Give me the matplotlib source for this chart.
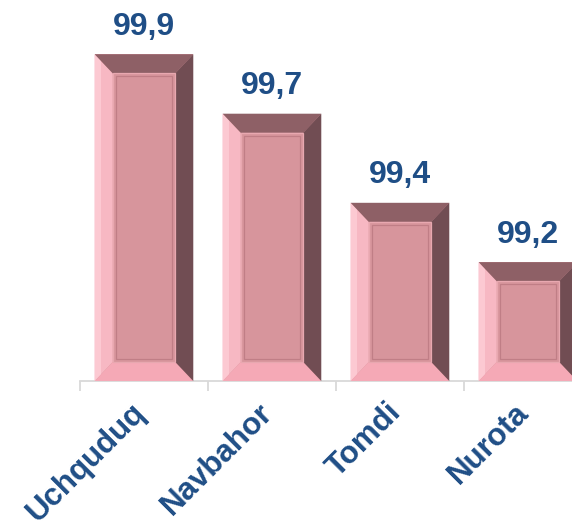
import numpy as np
import matplotlib
matplotlib.use("Agg")
import matplotlib.pyplot as plt
import matplotlib.transforms as mtransforms
from matplotlib.patches import Polygon, Rectangle
from matplotlib.ticker import FixedLocator

# data
districts = ["Uchquduq", "Navbahor", "Tomdi", "Nurota"]
values = [99.9, 99.7, 99.4, 99.2]
value_labels = ["99,9", "99,7", "99,4", "99,2"]

BLUE = "#1f4e86"
plt.rcParams['font.family'] = ['Liberation Sans', 'DejaVu Sans']

W, H = 572, 532
fig = plt.figure(figsize=(W / 100, H / 100), dpi=100)
# axes in pixels: left at 80, category width 128, baseline 381 from top
ax = fig.add_axes([80 / W, (H - 381) / H, 512 / W, 381 / H])
ymin = 98.8
ax.set_xlim(-0.5, 3.5)
ax.set_ylim(ymin, ymin + 381 / 297)

x = np.arange(len(districts))
bars = ax.bar(x, [v - ymin for v in values], bottom=ymin, width=0.77,
              color="#d7959c", edgecolor="none", zorder=2)

# bevel size in data units (about 18 px wide, 19 px tall)
px_x = 128.0  # px per x unit
px_y = 297.0  # px per y unit
bx = 18 / px_x
by = 19 / px_y

for b in bars:
    x0, y0 = b.get_x(), b.get_y()
    x1, y1 = x0 + b.get_width(), y0 + b.get_height()
    ix0, ix1, iy0, iy1 = x0 + bx, x1 - bx, y0 + by, y1 - by
    # left bevel (light)
    ax.add_patch(Polygon([(x0, y0), (x0, y1), (ix0, iy1), (ix0, iy0)],
                         closed=True, fc="#f7b8c3", ec="none", zorder=3))
    ax.add_patch(Polygon([(x0, y0), (x0, y1), (x0 + bx * 0.35, y1 - by * 0.35),
                          (x0 + bx * 0.35, y0 + by * 0.35)],
                         closed=True, fc="#fcc9d2", ec="none", zorder=3))
    # bottom bevel
    ax.add_patch(Polygon([(x0, y0), (x1, y0), (ix1, iy0), (ix0, iy0)],
                         closed=True, fc="#f5a9b6", ec="none", zorder=3))
    # top bevel (dark)
    ax.add_patch(Polygon([(x0, y1), (x1, y1), (ix1, iy1), (ix0, iy1)],
                         closed=True, fc="#8e6066", ec="none", zorder=3))
    # right bevel (darkest)
    ax.add_patch(Polygon([(x1, y0), (x1, y1), (ix1, iy1), (ix1, iy0)],
                         closed=True, fc="#714d53", ec="none", zorder=3))
    # inner face frame line
    ax.add_patch(Rectangle((ix0 + 3 / px_x, iy0 + 3 / px_y),
                           ix1 - ix0 - 6 / px_x, iy1 - iy0 - 6 / px_y,
                           fc="none", ec="#c07e86", lw=0.9, zorder=4))
    ax.add_patch(Rectangle((ix0, iy0), ix1 - ix0, iy1 - iy0,
                           fc="none", ec="#e8a8b0", lw=0.9, zorder=4))

for xi, v, lab in zip(x, values, value_labels):
    ax.annotate(lab, (xi, v), xytext=(0, 9), textcoords="offset points",
                ha="center", va="bottom", fontsize=23, fontweight="bold",
                color=BLUE, zorder=5)

for s in ["top", "right", "left"]:
    ax.spines[s].set_visible(False)
ax.spines["bottom"].set_color("#d9d9d9")
ax.spines["bottom"].set_linewidth(1.3)
ax.set_yticks([])

ax.set_xticks(x)
ax.set_xticklabels(districts, rotation=45, ha="right", rotation_mode="anchor",
                   fontsize=22.5, fontweight="bold", color=BLUE)
ax.tick_params(axis="x", which="major", length=0, pad=14)
shift = mtransforms.ScaledTranslation(-14 / 100, 3 / 100, fig.dpi_scale_trans)
for lbl in ax.get_xticklabels():
    lbl.set_transform(lbl.get_transform() + shift)
ax.xaxis.set_minor_locator(FixedLocator(np.arange(-0.5, 4, 1.0)))
ax.tick_params(axis="x", which="minor", length=7, width=1.3, color="#d9d9d9")

fig.savefig("out.png", dpi=100)
